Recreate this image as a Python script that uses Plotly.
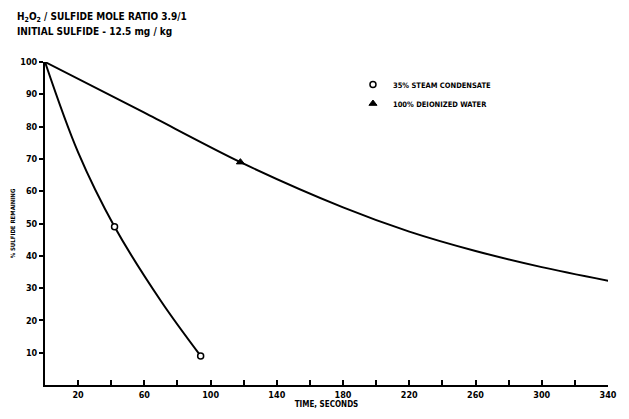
import plotly.graph_objects as go

# Curve readings (time in seconds, % sulfide remaining)
cond_t = [0, 20, 42, 70, 94]
cond_y = [100, 72, 49, 26, 9]
cond_mark_t = [42, 94]
cond_mark_y = [49, 9]

deion_t = [0, 60, 118, 180, 220, 260, 300, 343]
deion_y = [100, 84.3, 69, 55, 47.5, 41.5, 36.5, 32]
deion_mark_t = [118]
deion_mark_y = [69]

x_tickvals = list(range(20, 341, 40))
x_ticktext = ["<b>%d</b>" % v for v in x_tickvals]
y_tickvals = [10, 20, 30, 40, 50, 60, 70, 80, 90, 100]
y_ticktext = ["<b>%d</b>" % v for v in y_tickvals]

FONT = "DejaVu Sans Condensed, DejaVu Sans, Arial"

fig = go.Figure()
fig.add_trace(go.Scatter(x=cond_t, y=cond_y, mode="lines", line=dict(color="black", width=2, shape="spline", smoothing=1.0), showlegend=False, hoverinfo="skip"))
fig.add_trace(go.Scatter(x=deion_t, y=deion_y, mode="lines", line=dict(color="black", width=2, shape="spline", smoothing=0.8), showlegend=False, hoverinfo="skip"))
fig.add_trace(go.Scatter(x=cond_mark_t, y=cond_mark_y, mode="markers", name="<b>35% STEAM CONDENSATE</b>",
                         marker=dict(symbol="circle", size=6, color="white", line=dict(color="black", width=1.5))))
fig.add_trace(go.Scatter(x=deion_mark_t, y=deion_mark_y, mode="markers", name="<b>100% DEIONIZED WATER</b>",
                         marker=dict(symbol="triangle-up", size=7, color="black", line=dict(color="black", width=1))))

fig.update_layout(
    width=629, height=419,
    margin=dict(l=39, r=16, t=62, b=32),
    paper_bgcolor="white", plot_bgcolor="white",
    font=dict(family=FONT, color="black", size=9),
    legend=dict(x=0.547, y=0.975, xanchor="left", yanchor="top", bgcolor="rgba(0,0,0,0)",
                font=dict(family=FONT, size=7.5, color="black"), itemwidth=30, tracegroupgap=0),
    annotations=[
        dict(text="<b>H<sub>2</sub>O<sub>2</sub> / SULFIDE MOLE RATIO 3.9/1</b>", xref="paper", yref="paper",
             x=-0.053, y=1.138, xanchor="left", yanchor="middle", showarrow=False, font=dict(size=10, family=FONT)),
        dict(text="<b>INITIAL SULFIDE - 12.5 mg / kg</b>", xref="paper", yref="paper",
             x=-0.053, y=1.095, xanchor="left", yanchor="middle", showarrow=False, font=dict(size=10, family=FONT)),
    ],
)
fig.update_xaxes(range=[0, 340], tickvals=x_tickvals, ticktext=x_ticktext, ticks="inside", ticklen=5,
                 tickwidth=1.5, tickcolor="black",
                 minor=dict(ticks="inside", tick0=0, dtick=20, ticklen=5, tickwidth=1.5, tickcolor="black", showgrid=False),
                 showline=True, linecolor="black", linewidth=2,
                 showgrid=False, zeroline=False, tickfont=dict(size=9, family=FONT),
                 title=dict(text="<b>TIME, SECONDS</b>", font=dict(size=8, family=FONT), standoff=2))
fig.update_yaxes(range=[0, 100], tickvals=y_tickvals, ticktext=y_ticktext, ticks="outside", ticklen=4, tickwidth=1.5,
                 tickcolor="black", showline=True, linecolor="black", linewidth=2, showgrid=False,
                 zeroline=False, tickfont=dict(size=9, family=FONT), ticklabelstandoff=0,
                 title=dict(text="<b>% SULFIDE REMAINING</b>", font=dict(size=6, family=FONT), standoff=4))

fig.write_html("out.html")
